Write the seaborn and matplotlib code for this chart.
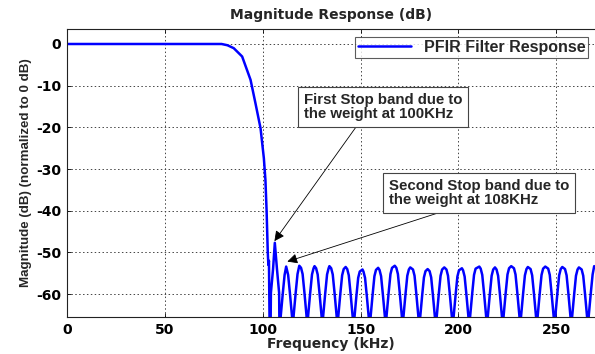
"""Magnitude response of the PFIR filter, redrawn from the paper figure."""

import matplotlib

matplotlib.use("Agg")
import matplotlib.pyplot as plt
import pandas as pd
import seaborn as sns

# passband and transition edge (kHz, dB)
ROLL_KHZ = [0, 79.0, 82.0, 85.2, 89.5, 93.8, 96.3, 98.9, 100.6, 101.4, 102.0, 102.6, 102.9, 103.2]
ROLL_DB = [0, 0, -0.3, -1.0, -3.0, -8.6, -14.2, -20.2, -27.4, -32.6, -40.0, -50.0, -53.0, -52.0]

# stopband side lobes: nulls between lobes, lobe peaks and their levels
LOBE_NULLS = [103.8, 108.8, 115.4, 122.8, 130.5, 138.2, 146.4, 154.7, 162.9, 171.5, 180.0,
              188.5, 197.1, 205.6, 214.6, 222.7, 231.6, 240.1, 249.1, 257.7, 266.2, 273.5]
LOBE_PEAKS = [106.2, 112.0, 118.7, 126.5, 134.1, 142.4, 151.0, 159.0, 167.5, 175.4, 184.3,
              192.8, 201.8, 210.7, 218.7, 227.0, 235.5, 244.4, 253.1, 261.6, 269.4]
LOBE_PEAK_DB = [-47.7, -53.4, -53.2, -53.3, -53.3, -53.5, -54.1, -53.7, -53.2, -53.6, -54.0,
                -53.6, -53.8, -53.4, -53.6, -53.3, -53.5, -53.4, -53.5, -53.6, -53.3]
NULL_DB = -80.0
# shape of one lobe flank: distance from null (kHz), drop below peak (dB)
FLANK_KHZ = [0.4, 1.5, 2.4, 3.2]
FLANK_DROP_DB = [12.0, 6.3, 2.0, 0.5]

LEGEND_LABEL = "PFIR Filter Response"
NOTE_1 = "First Stop band due to\nthe weight at 100KHz"
NOTE_2 = "Second Stop band due to\nthe weight at 108KHz"

WIDE = ["DejaVu Sans"]


def build_response():
    freq = list(ROLL_KHZ)
    mag = list(ROLL_DB)
    for i, peak in enumerate(LOBE_PEAKS):
        left, right = LOBE_NULLS[i], LOBE_NULLS[i + 1]
        level = LOBE_PEAK_DB[i]
        freq.append(left)
        mag.append(NULL_DB)
        for off, drop in zip(FLANK_KHZ, FLANK_DROP_DB):
            if left + off < peak - 0.3:
                freq.append(left + off)
                mag.append(level - drop)
        freq.append(peak)
        mag.append(level)
        for off, drop in zip(FLANK_KHZ[::-1], FLANK_DROP_DB[::-1]):
            if right - off > peak + 0.3:
                freq.append(right - off)
                mag.append(level - drop)
    freq.append(LOBE_NULLS[-1])
    mag.append(NULL_DB)
    return pd.DataFrame({"freq": freq, "mag": mag})


def main():
    sns.set_theme(style="ticks")
    plt.rcParams["font.family"] = ["Liberation Sans", "DejaVu Sans"]
    plt.rcParams["font.weight"] = "bold"
    plt.rcParams["axes.unicode_minus"] = False

    df = build_response()

    fig = plt.figure(figsize=(5.95, 3.54), dpi=100)
    ax = fig.add_axes([0.1126, 0.1045, 0.888, 0.8136])

    sns.lineplot(data=df, x="freq", y="mag", ax=ax, color="#0000ff", linewidth=1.8,
                 sort=False, estimator=None, label=LEGEND_LABEL)

    ax.set_xlim(0, 270)
    ax.set_ylim(-65.5, 3.6)
    ax.set_xticks([0, 50, 100, 150, 200, 250])
    ax.set_yticks([0, -10, -20, -30, -40, -50, -60])
    ax.tick_params(direction="in", length=3, width=0.6, labelsize=10, pad=4,
                   top=True, colors="black")
    for lab in ax.get_xticklabels() + ax.get_yticklabels():
        lab.set_fontweight("bold")
        lab.set_family(WIDE)

    ax.grid(True, color="#444444", linestyle=(0, (1.5, 2.5)), linewidth=0.7)
    for side in ["left", "bottom", "top"]:
        ax.spines[side].set_color("#222222")
        ax.spines[side].set_linewidth(0.8)
    ax.spines["right"].set_visible(False)

    ax.set_title("Magnitude Response (dB)", fontsize=10, fontweight="bold", pad=7,
                 family=WIDE)
    ax.set_xlabel("Frequency (kHz)", fontsize=10, fontweight="bold", labelpad=0,
                  family=WIDE)
    ax.set_ylabel("Magnitude (dB) (normalized to 0 dB)", fontsize=9.6, fontweight="bold",
                  labelpad=3)

    leg = ax.legend(loc="upper right", bbox_to_anchor=(0.993, 0.985), fontsize=11.5,
                    frameon=True, fancybox=False, handlelength=3.3, borderpad=0.2,
                    handletextpad=0.8, borderaxespad=0.2)
    leg.get_frame().set_edgecolor("#333333")
    leg.get_frame().set_linewidth(0.8)
    for t in leg.get_texts():
        t.set_fontweight("bold")

    box = dict(boxstyle="square,pad=0.4", fc="white", ec="#444444", lw=0.8)
    arrow = dict(arrowstyle="-|>", color="black", lw=0.6, mutation_scale=15, shrinkA=0, shrinkB=0)

    ax.annotate(NOTE_1, xy=(106.0, -47.3), xytext=(120.9, -15.0), fontsize=10.8,
                fontweight="bold", ha="left", va="center", bbox=box, linespacing=1.0,
                arrowprops=dict(arrow, relpos=(0.36, 0.0)))
    ax.annotate(NOTE_2, xy=(112.6, -52.2), xytext=(164.6, -35.8), fontsize=10.8,
                fontweight="bold", ha="left", va="center", bbox=box, linespacing=1.0,
                arrowprops=dict(arrow, relpos=(0.37, 0.0)))

    fig.savefig("out.png", dpi=100)
    plt.close(fig)


if __name__ == "__main__":
    main()
